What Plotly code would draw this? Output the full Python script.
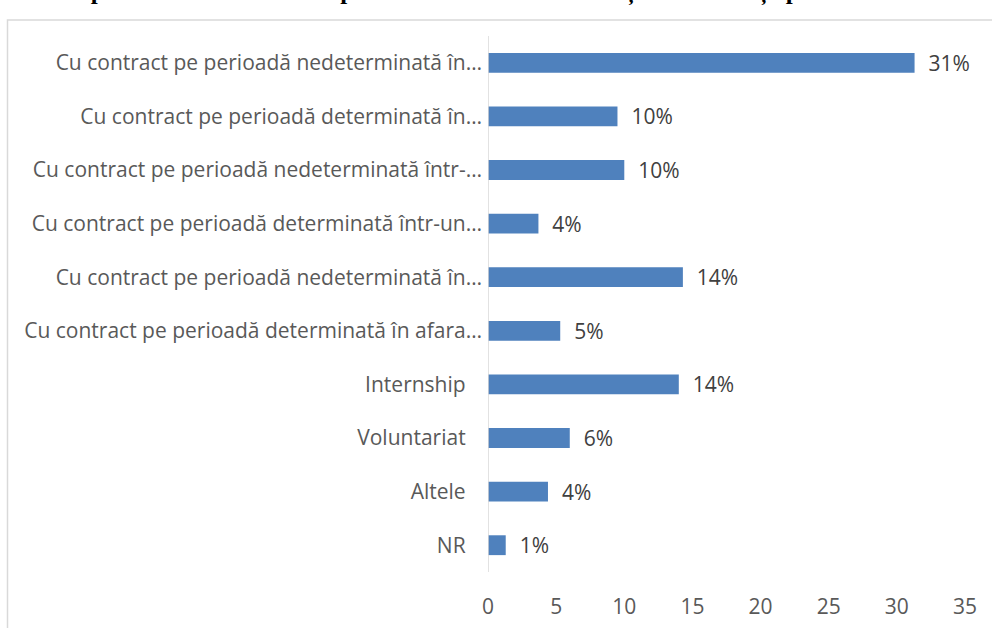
import plotly.graph_objects as go

categories = [
    "Cu contract pe perioadă nedeterminată în…",
    "Cu contract pe perioadă determinată în…",
    "Cu contract pe perioadă nedeterminată într-…",
    "Cu contract pe perioadă determinată într-un…",
    "Cu contract pe perioadă nedeterminată în…\u200b",
    "Cu contract pe perioadă determinată în afara…",
    "Internship\u00a0\u00a0\u00a0",
    "Voluntariat\u00a0\u00a0\u00a0",
    "Altele\u00a0\u00a0\u00a0",
    "NR\u00a0\u00a0\u00a0",
]
values = [31.3, 9.5, 10.0, 3.7, 14.3, 5.3, 14.0, 6.0, 4.4, 1.3]
x_ticks = [0, 5, 10, 15, 20, 25, 30, 35]
title_text = ("Figura 16. Tipul locurilor de muncă predominante ale absolvenților "
              "de licență pe durata studiilor")

W, H = 992, 628
L, R, T, B = 488, 27, 36, 56
pw, ph = W - L - R, H - T - B

def px_x(p):
    return (p - L) / pw

def px_y(p):
    return (H - B - p) / ph

FONT = "Open Sans"
FS = 21

fig = go.Figure(go.Bar(
    x=values,
    y=categories,
    orientation="h",
    marker=dict(color="#4f81bd", line=dict(color="#4f81bd", width=0)),
    texttemplate="\u00a0\u00a0%{x:.0f}%",
    textposition="outside",
    constraintext="none",
    textfont=dict(family=FONT, size=FS, color="#404040"),
    cliponaxis=False,
))

fig.update_layout(
    width=W, height=H,
    margin=dict(l=L, r=R, t=T, b=B, autoexpand=False),
    paper_bgcolor="white",
    plot_bgcolor="white",
    bargap=0.63,
    showlegend=False,
    font=dict(family=FONT, size=FS, color="#595959"),
    xaxis=dict(
        range=[0, 35],
        tickvals=x_ticks,
        showgrid=False,
        zeroline=False,
        showline=False,
        ticks="",
        ticklabelstandoff=20,
        tickfont=dict(family=FONT, size=FS, color="#595959"),
    ),
    yaxis=dict(
        autorange="reversed",
        showgrid=False,
        zeroline=False,
        showline=False,
        ticks="",
        ticklabelstandoff=5,
        tickfont=dict(family=FONT, size=FS, color="#595959"),
    ),
    shapes=[
        dict(type="line", xref="x", yref="paper", x0=0, x1=0, y0=0, y1=1,
             line=dict(color="#d9d9d9", width=1.5)),
        dict(type="rect", xref="paper", yref="paper",
             x0=px_x(7.5), x1=px_x(1100), y0=px_y(700), y1=px_y(20),
             line=dict(color="#d9d9d9", width=1.5), fillcolor="rgba(0,0,0,0)",
             layer="below"),
    ],
    annotations=[
        dict(text=title_text, xref="paper", yref="paper",
             x=px_x(-50), y=px_y(-9), xanchor="left", yanchor="middle",
             showarrow=False,
             font=dict(family="Liberation Serif", size=25, color="black", weight="bold")),
    ],
)

fig.write_html("out.html",
               config={"displayModeBar": False, "staticPlot": True},
               post_script="document.body.style.margin='0';document.body.style.overflow='hidden';")
